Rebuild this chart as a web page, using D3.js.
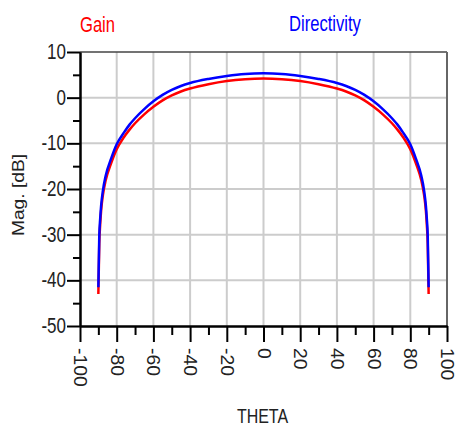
<!DOCTYPE html>
<html>
<head>
<meta charset="utf-8">
<script src="https://cdn.jsdelivr.net/npm/d3@7"></script>
<style>
  body { margin: 0; background: #fff; }
  svg { display: block; font-family: "Liberation Sans", Arial, sans-serif; }
</style>
</head>
<body>
<div id="chart"></div>
<script>
// values
const theta = [-90, -89.5, -89, -88.5, -87.5, -86, -83, -80, -76, -73, -70, -65, -60, -55, -50, -45, -40, -30, -20, -10,
  0, 10, 20, 30, 40, 45, 50, 55, 60, 65, 70, 73, 76, 80, 83, 86, 87.5, 88.5, 89, 89.5, 90];
const gain = [-43, -32, -27.8, -24.8, -21.3, -18.1, -14.3, -11.3, -8.6, -7.0, -5.6, -3.65, -2.0, -0.6, 0.5, 1.35, 2.0, 2.95, 3.65, 4.05,
  4.2, 4.05, 3.65, 2.95, 2.0, 1.35, 0.5, -0.6, -2.0, -3.65, -5.6, -7.0, -8.6, -11.3, -14.3, -18.1, -21.3, -24.8, -27.8, -32, -43];
const directivity = [-41.5, -30.3, -26.5, -23.7, -20.3, -17.1, -13.3, -10.2, -7.6, -5.9, -4.5, -2.5, -0.8, 0.6, 1.7, 2.55, 3.2, 4.1, 4.75, 5.2,
  5.35, 5.2, 4.75, 4.1, 3.2, 2.55, 1.7, 0.6, -0.8, -2.5, -4.5, -5.9, -7.6, -10.2, -13.3, -17.1, -20.3, -23.7, -26.5, -30.3, -41.5];
const xTicks = [-100, -80, -60, -40, -20, 0, 20, 40, 60, 80, 100];
const xMinor = [-90, -70, -50, -30, -10, 10, 30, 50, 70, 90];
const yTicks = [-50, -40, -30, -20, -10, 0, 10];
const yMinor = [-45, -35, -25, -15, -5, 5];

const W = 457, H = 426;
const L = 80, R = 447, T = 52, B = 326;

const svg = d3.select("#chart").append("svg")
  .attr("width", W)
  .attr("height", H);

const x = d3.scaleLinear().domain([-100, 100]).range([L, R]);
const y = d3.scaleLinear().domain([-50, 10]).range([B, T]);

// grid
svg.append("g").selectAll("line")
  .data(xTicks.filter(d => d > -100 && d < 100))
  .join("line")
  .attr("x1", d => x(d)).attr("x2", d => x(d))
  .attr("y1", T).attr("y2", B)
  .attr("stroke", "#cccccc").attr("stroke-width", 2);
svg.append("g").selectAll("line")
  .data(yTicks.filter(d => d > -50 && d < 10))
  .join("line")
  .attr("x1", L).attr("x2", R)
  .attr("y1", d => y(d)).attr("y2", d => y(d))
  .attr("stroke", "#cccccc").attr("stroke-width", 2);

// frame top / right
svg.append("line").attr("x1", L).attr("x2", R).attr("y1", T).attr("y2", T)
  .attr("stroke", "#444").attr("stroke-width", 1.5);
svg.append("line").attr("x1", R).attr("x2", R).attr("y1", T).attr("y2", B)
  .attr("stroke", "#666").attr("stroke-width", 2);

// curves
const line = d3.line()
  .x((d, i) => x(theta[i]))
  .y(d => y(d))
  .curve(d3.curveMonotoneX);

svg.append("path").datum(gain)
  .attr("d", line).attr("fill", "none")
  .attr("stroke", "#ff0000").attr("stroke-width", 2.5);
svg.append("path").datum(directivity)
  .attr("d", line).attr("fill", "none")
  .attr("stroke", "#0000ff").attr("stroke-width", 2.5);

// axes
const fmt = d => String(d);
const yAxis = svg.append("g").attr("transform", `translate(${L},0)`)
  .call(d3.axisLeft(y).tickValues(yTicks).tickSize(13).tickSizeOuter(0).tickFormat(fmt));
svg.append("g").attr("transform", `translate(${L},0)`)
  .call(d3.axisLeft(y).tickValues(yMinor).tickSize(7).tickSizeOuter(0).tickFormat(""));
const xAxis = svg.append("g").attr("transform", `translate(0,${B})`)
  .call(d3.axisBottom(x).tickValues(xTicks).tickSize(16).tickSizeOuter(0).tickFormat(fmt));
svg.append("g").attr("transform", `translate(0,${B})`)
  .call(d3.axisBottom(x).tickValues(xMinor).tickSize(9).tickSizeOuter(0).tickFormat(""));

svg.selectAll(".domain").attr("stroke", "#000").attr("stroke-width", 2);
svg.selectAll(".tick line").attr("stroke", "#000").attr("stroke-width", 2);

yAxis.selectAll(".tick text")
  .attr("x", null).attr("dy", null)
  .attr("font-size", 17).attr("fill", "#222")
  .attr("transform", "translate(-14,6.5) scale(1,1.25)");

xAxis.selectAll(".tick text")
  .attr("y", null).attr("dy", "0.36em")
  .attr("text-anchor", "start")
  .attr("font-size", 18).attr("fill", "#222")
  .attr("transform", "translate(0,22) rotate(90) scale(1.08,1)");

// titles
svg.append("text")
  .attr("transform", `translate(${(L + R) / 2 - 1},423) scale(1,1.3)`)
  .attr("text-anchor", "middle").attr("font-size", 16).attr("fill", "#222")
  .text("THETA");
svg.append("text")
  .attr("transform", `translate(24,${(T + B) / 2 + 6}) rotate(-90) scale(1.2,1)`)
  .attr("text-anchor", "middle").attr("font-size", 16).attr("fill", "#222")
  .text("Mag. [dB]");

// legend
svg.append("text")
  .attr("transform", "translate(80,31.5) scale(1,1.28)")
  .attr("font-size", 16.6).attr("fill", "#ff0000")
  .text("Gain");
svg.append("text")
  .attr("transform", "translate(289,31) scale(1,1.28)")
  .attr("font-size", 16.6).attr("fill", "#0000ff")
  .text("Directivity");
</script>
</body>
</html>
